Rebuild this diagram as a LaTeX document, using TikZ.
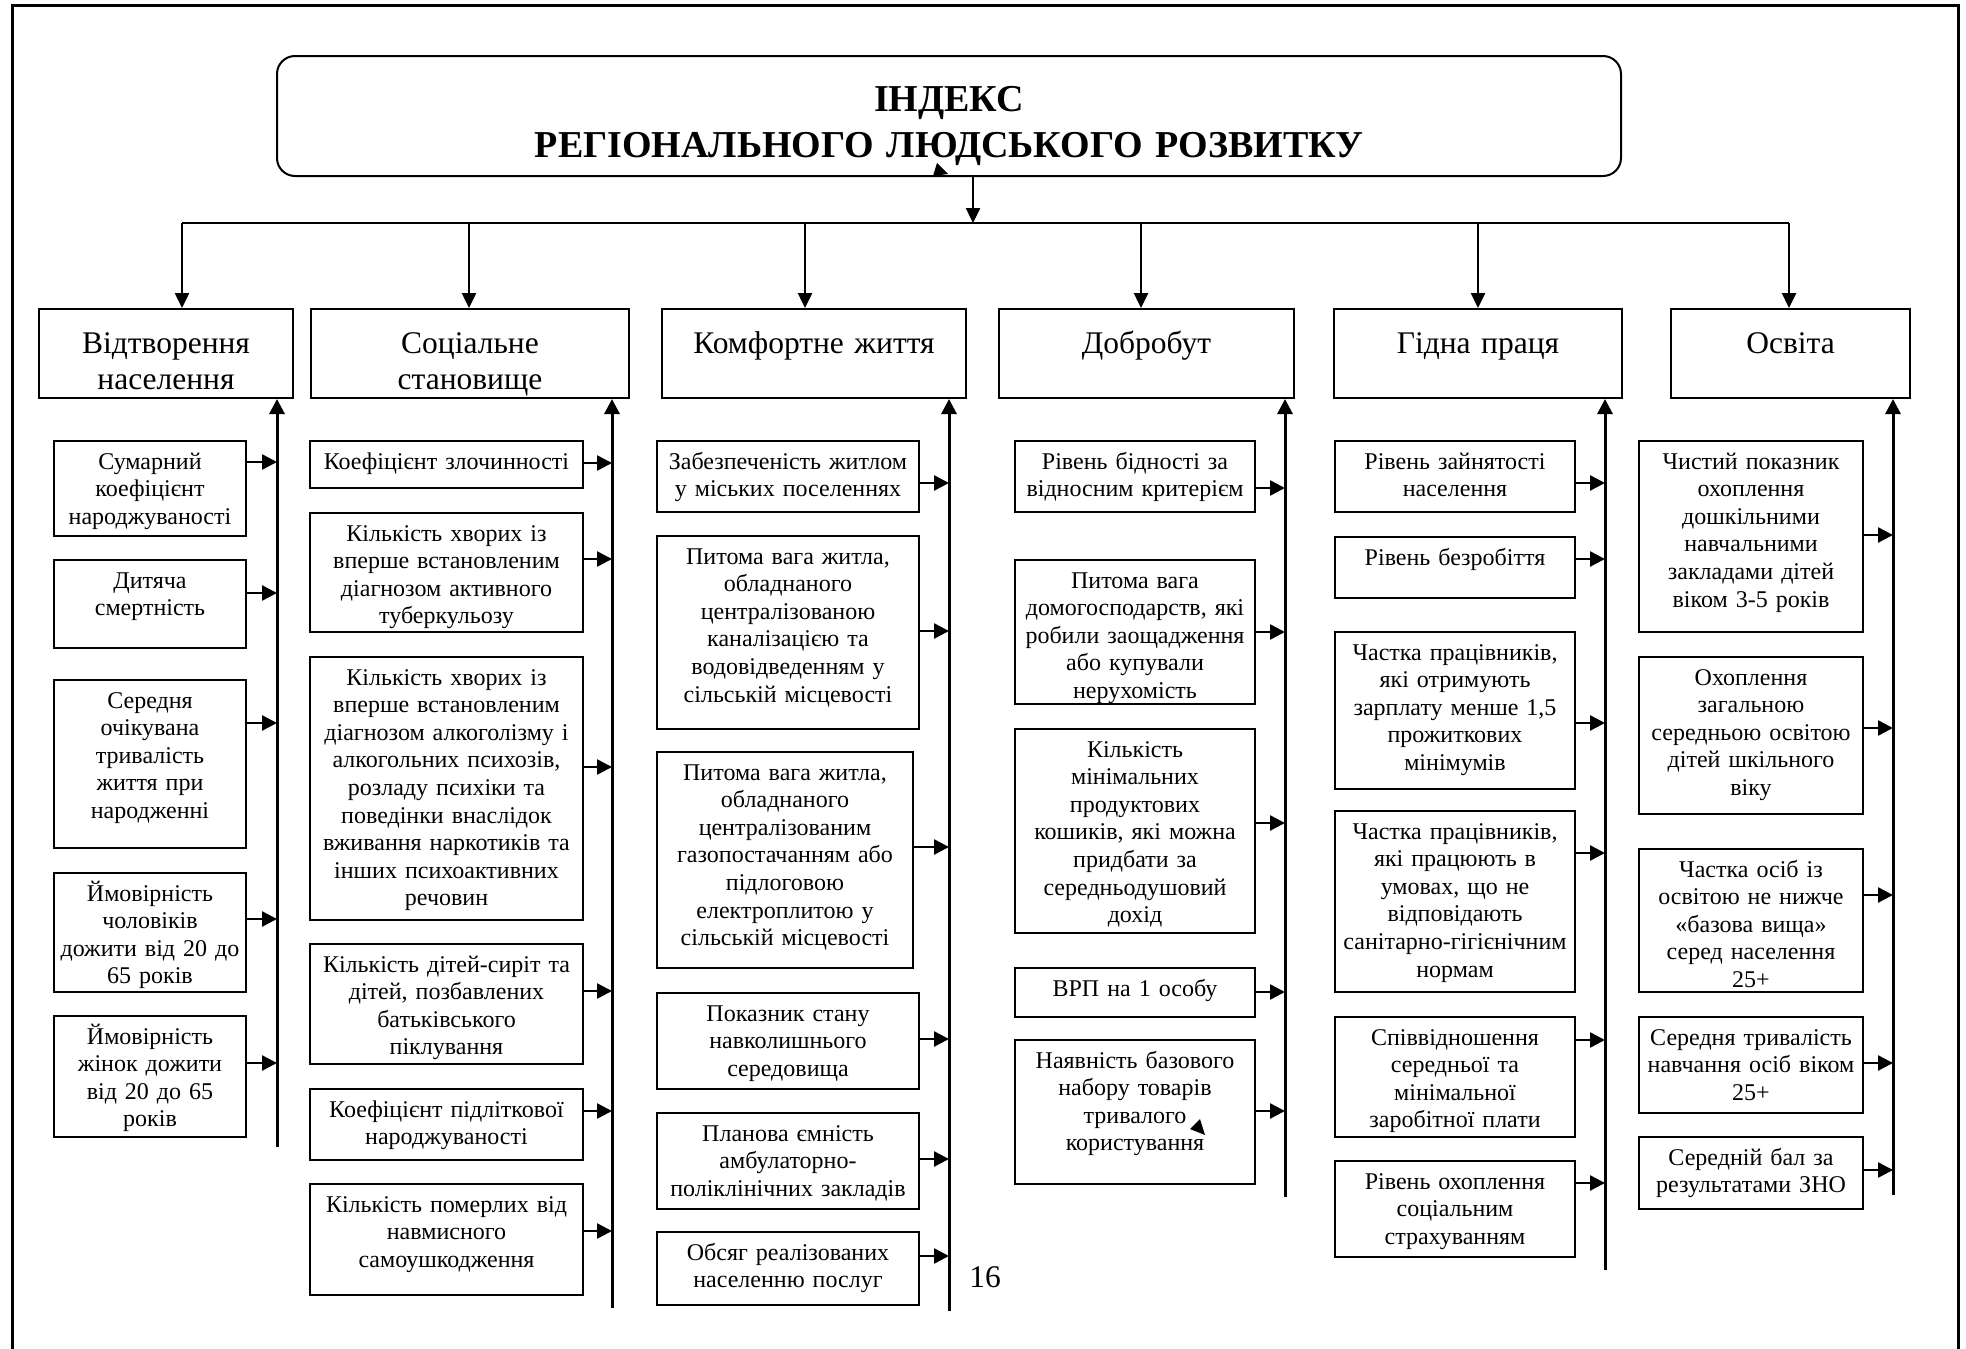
\documentclass[tikz,border=0pt]{standalone}
\usepackage{fontspec}
\setmainfont{Liberation Serif}
\usepackage{tikz}
\usetikzlibrary{arrows.meta, positioning, calc}

\newcommand\idxfont{\fontsize{38pt}{46pt}\selectfont\bfseries}
\newcommand\catfont{\fontsize{31.5pt}{36pt}\selectfont}
\newcommand\indfont{\fontsize{24pt}{27.6pt}\selectfont}

\begin{document}
\begin{tikzpicture}[
  x=1pt, y=-1pt,
  titlebox/.style={draw, line width=2pt, rounded corners=18pt, anchor=north, inner sep=0pt,
    minimum width=1344pt, text width=1344pt, align=center, font=\idxfont,
    text height=55pt, text depth=65pt},
  catbox/.style={draw, line width=2pt, anchor=north west, inner sep=0pt, align=center,
    font=\catfont, text height=44pt, text depth=45pt},
  indbox/.style={draw, line width=2pt, anchor=north west, inner sep=0pt, align=center,
    font=\indfont, text height=28pt},
  wd/.style={minimum width=#1, text width=#1},
  frame/.style={line width=3pt},
  busline/.style={line width=2.5pt},
  droparrow/.style={line width=2.5pt, -{Triangle[length=15pt, width=14pt]}},
  collect/.style={line width=3pt, -{Triangle[length=15pt, width=15pt]}},
  feedarrow/.style={line width=2.5pt, -{Triangle[length=15pt, width=15pt]}}
]
\useasboundingbox (0,0) rectangle (1966,1349);
\draw[frame] (12,1349) |- (1958,5) -- (1958,1349);

\node[titlebox] (idx) at (949,55) {ІНДЕКС\\РЕГІОНАЛЬНОГО ЛЮДСЬКОГО РОЗВИТКУ};

\node[catbox, wd=254pt] (h1) at (38,308)   {Відтворення\\населення};
\node[catbox, wd=318pt] (h2) at (310,308)  {Соціальне\\становище};
\node[catbox, wd=304pt] (h3) at (661,308)  {Комфортне життя};
\node[catbox, wd=295pt] (h4) at (998,308)  {Добробут};
\node[catbox, wd=288pt] (h5) at (1333,308) {Гідна праця};
\node[catbox, wd=239pt] (h6) at (1670,308) {Освіта};

\node[indbox, wd=192pt, text depth=67pt]  (a1) at (53,440)  {Сумарний\\коефіцієнт\\народжуваності};
\node[indbox, wd=192pt, text depth=60pt]  (a2) at (53,559)  {Дитяча\\смертність};
\node[indbox, wd=192pt, text depth=140pt] (a3) at (53,679)  {Середня\\очікувана\\тривалість\\життя при\\народженні};
\node[indbox, wd=192pt, text depth=91pt]  (a4) at (53,872)  {Ймовірність\\чоловіків\\дожити від 20 до\\65 років};
\node[indbox, wd=192pt, text depth=93pt]  (a5) at (53,1015) {Ймовірність\\жінок дожити\\від 20 до 65\\років};

\node[indbox, wd=273pt, text depth=19pt]  (b1) at (309,440)  {Коефіцієнт злочинності};
\node[indbox, wd=273pt, text depth=91pt]  (b2) at (309,512)  {Кількість хворих із\\вперше встановленим\\діагнозом активного\\туберкульозу};
\node[indbox, wd=273pt, text depth=235pt] (b3) at (309,656)  {Кількість хворих із\\вперше встановленим\\діагнозом алкоголізму і\\алкогольних психозів,\\розладу психіки та\\поведінки внаслідок\\вживання наркотиків та\\інших психоактивних\\речовин};
\node[indbox, wd=273pt, text depth=92pt]  (b4) at (309,943)  {Кількість дітей-сиріт та\\дітей, позбавлених\\батьківського\\піклування};
\node[indbox, wd=273pt, text depth=43pt]  (b5) at (309,1088) {Коефіцієнт підліткової\\народжуваності};
\node[indbox, wd=273pt, text depth=83pt]  (b6) at (309,1183) {Кількість померлих від\\навмисного\\самоушкодження};

\node[indbox, wd=262pt, text depth=43pt]  (e1) at (656,440)  {Забезпеченість житлом\\у міських поселеннях};
\node[indbox, wd=262pt, text depth=165pt] (e2) at (656,535)  {Питома вага житла,\\обладнаного\\централізованою\\каналізацією та\\водовідведенням у\\сільській місцевості};
\node[indbox, wd=256pt, text depth=188pt] (e3) at (656,751)  {Питома вага житла,\\обладнаного\\централізованим\\газопостачанням або\\підлоговою\\електроплитою у\\сільській місцевості};
\node[indbox, wd=262pt, text depth=68pt]  (e4) at (656,992)  {Показник стану\\навколишнього\\середовища};
\node[indbox, wd=262pt, text depth=68pt]  (e5) at (656,1112) {Планова ємність\\амбулаторно-\\поліклінічних закладів};
\node[indbox, wd=262pt, text depth=45pt]  (e6) at (656,1231) {Обсяг реалізованих\\населенню послуг};

\node[indbox, wd=240pt, text depth=43pt]  (f1) at (1014,440)  {Рівень бідності за\\відносним критерієм};
\node[indbox, wd=240pt, text depth=116pt] (f2) at (1014,559)  {Питома вага\\домогосподарств, які\\робили заощадження\\або купували\\нерухомість};
\node[indbox, wd=240pt, text depth=176pt] (f3) at (1014,728)  {Кількість\\мінімальних\\продуктових\\кошиків, які можна\\придбати за\\середньодушовий\\дохід};
\node[indbox, wd=240pt, text depth=21pt]  (f4) at (1014,967)  {ВРП на 1 особу};
\node[indbox, wd=240pt, text depth=116pt] (f5) at (1014,1039) {Наявність базового\\набору товарів\\тривалого\\користування};

\node[indbox, wd=240pt, text depth=43pt]  (g1) at (1334,440)  {Рівень зайнятості\\населення};
\node[indbox, wd=240pt, text depth=33pt]  (g2) at (1334,536)  {Рівень безробіття};
\node[indbox, wd=240pt, text depth=129pt] (g3) at (1334,631)  {Частка працівників,\\які отримують\\зарплату менше 1,5\\прожиткових\\мінімумів};
\node[indbox, wd=240pt, text depth=153pt] (g4) at (1334,810)  {Частка працівників,\\які працюють в\\умовах, що не\\відповідають\\санітарно-гігієнічним\\нормам};
\node[indbox, wd=240pt, text depth=92pt]  (g5) at (1334,1016) {Співвідношення\\середньої та\\мінімальної\\заробітної плати};
\node[indbox, wd=240pt, text depth=68pt]  (g6) at (1334,1160) {Рівень охоплення\\соціальним\\страхуванням};

\node[indbox, wd=224pt, text depth=163pt] (k1) at (1638,440)  {Чистий показник\\охоплення\\дошкільними\\навчальними\\закладами дітей\\віком 3-5 років};
\node[indbox, wd=224pt, text depth=129pt] (k2) at (1638,656)  {Охоплення\\загальною\\середньою освітою\\дітей шкільного\\віку};
\node[indbox, wd=224pt, text depth=115pt] (k3) at (1638,848)  {Частка осіб із\\освітою не нижче\\«базова вища»\\серед населення\\25+};
\node[indbox, wd=224pt, text depth=68pt]  (k4) at (1638,1016) {Середня тривалість\\навчання осіб віком\\25+};
\node[indbox, wd=224pt, text depth=44pt]  (k5) at (1638,1136) {Середній бал за\\результатами ЗНО};

\node[font=\catfont] (pg) at (985,1277) {16};

\coordinate (bus) at (973,223);
\coordinate (d1) at (182,223);
\coordinate (d2) at (469,223);
\coordinate (d3) at (805,223);
\coordinate (d4) at (1141,223);
\coordinate (d5) at (1478,223);
\coordinate (d6) at (1789,223);
\coordinate (c1) at (277,1147);
\coordinate (c2) at (612,1308);
\coordinate (c3) at (949,1311);
\coordinate (c4) at (1285,1197);
\coordinate (c5) at (1605,1270);
\coordinate (c6) at (1893,1195);

\draw[droparrow] (idx.south -| bus) -- (bus);
\draw[busline] (d1) -- (d6);
\draw[droparrow] (d1) -- (d1 |- h1.north);
\draw[droparrow] (d2) -- (d2 |- h2.north);
\draw[droparrow] (d3) -- (d3 |- h3.north);
\draw[droparrow] (d4) -- (d4 |- h4.north);
\draw[droparrow] (d5) -- (d5 |- h5.north);
\draw[droparrow] (d6) -- (d6 |- h6.north);

\draw[collect] (c1) -- (c1 |- h1.south);
\draw[collect] (c2) -- (c2 |- h2.south);
\draw[collect] (c3) -- (c3 |- h3.south);
\draw[collect] (c4) -- (c4 |- h4.south);
\draw[collect] (c5) -- (c5 |- h5.south);
\draw[collect] (c6) -- (c6 |- h6.south);

\draw[feedarrow] ($(a1.north east)+(0,22)$) -- ($(a1.north east -| c1)+(0,22)$);
\draw[feedarrow] ($(a2.north east)+(0,34)$) -- ($(a2.north east -| c1)+(0,34)$);
\draw[feedarrow] ($(a3.north east)+(0,44)$) -- ($(a3.north east -| c1)+(0,44)$);
\draw[feedarrow] ($(a4.north east)+(0,47)$) -- ($(a4.north east -| c1)+(0,47)$);
\draw[feedarrow] ($(a5.north east)+(0,48)$) -- ($(a5.north east -| c1)+(0,48)$);

\draw[feedarrow] ($(b1.north east)+(0,23)$) -- ($(b1.north east -| c2)+(0,23)$);
\draw[feedarrow] ($(b2.north east)+(0,47)$) -- ($(b2.north east -| c2)+(0,47)$);
\draw[feedarrow] ($(b3.north east)+(0,111)$) -- ($(b3.north east -| c2)+(0,111)$);
\draw[feedarrow] ($(b4.north east)+(0,48)$) -- ($(b4.north east -| c2)+(0,48)$);
\draw[feedarrow] ($(b5.north east)+(0,23)$) -- ($(b5.north east -| c2)+(0,23)$);
\draw[feedarrow] ($(b6.north east)+(0,48)$) -- ($(b6.north east -| c2)+(0,48)$);

\draw[feedarrow] ($(e1.north east)+(0,43)$) -- ($(e1.north east -| c3)+(0,43)$);
\draw[feedarrow] ($(e2.north east)+(0,96)$) -- ($(e2.north east -| c3)+(0,96)$);
\draw[feedarrow] ($(e3.north east)+(0,96)$) -- ($(e3.north east -| c3)+(0,96)$);
\draw[feedarrow] ($(e4.north east)+(0,47)$) -- ($(e4.north east -| c3)+(0,47)$);
\draw[feedarrow] ($(e5.north east)+(0,47)$) -- ($(e5.north east -| c3)+(0,47)$);
\draw[feedarrow] ($(e6.north east)+(0,25)$) -- ($(e6.north east -| c3)+(0,25)$);

\draw[feedarrow] ($(f1.north east)+(0,48)$) -- ($(f1.north east -| c4)+(0,48)$);
\draw[feedarrow] ($(f2.north east)+(0,73)$) -- ($(f2.north east -| c4)+(0,73)$);
\draw[feedarrow] ($(f3.north east)+(0,95)$) -- ($(f3.north east -| c4)+(0,95)$);
\draw[feedarrow] ($(f4.north east)+(0,25)$) -- ($(f4.north east -| c4)+(0,25)$);
\draw[feedarrow] ($(f5.north east)+(0,72)$) -- ($(f5.north east -| c4)+(0,72)$);

\draw[feedarrow] ($(g1.north east)+(0,43)$) -- ($(g1.north east -| c5)+(0,43)$);
\draw[feedarrow] ($(g2.north east)+(0,23)$) -- ($(g2.north east -| c5)+(0,23)$);
\draw[feedarrow] ($(g3.north east)+(0,92)$) -- ($(g3.north east -| c5)+(0,92)$);
\draw[feedarrow] ($(g4.north east)+(0,43)$) -- ($(g4.north east -| c5)+(0,43)$);
\draw[feedarrow] ($(g5.north east)+(0,24)$) -- ($(g5.north east -| c5)+(0,24)$);
\draw[feedarrow] ($(g6.north east)+(0,23)$) -- ($(g6.north east -| c5)+(0,23)$);

\draw[feedarrow] ($(k1.north east)+(0,95)$) -- ($(k1.north east -| c6)+(0,95)$);
\draw[feedarrow] ($(k2.north east)+(0,72)$) -- ($(k2.north east -| c6)+(0,72)$);
\draw[feedarrow] ($(k3.north east)+(0,47)$) -- ($(k3.north east -| c6)+(0,47)$);
\draw[feedarrow] ($(k4.north east)+(0,47)$) -- ($(k4.north east -| c6)+(0,47)$);
\draw[feedarrow] ($(k5.north east)+(0,34)$) -- ($(k5.north east -| c6)+(0,34)$);

\fill (933,176) -- (948,174) -- (937,163) -- cycle;
\fill (1190,1129) -- (1205,1135) -- (1200,1119) -- cycle;
\end{tikzpicture}
\end{document}
